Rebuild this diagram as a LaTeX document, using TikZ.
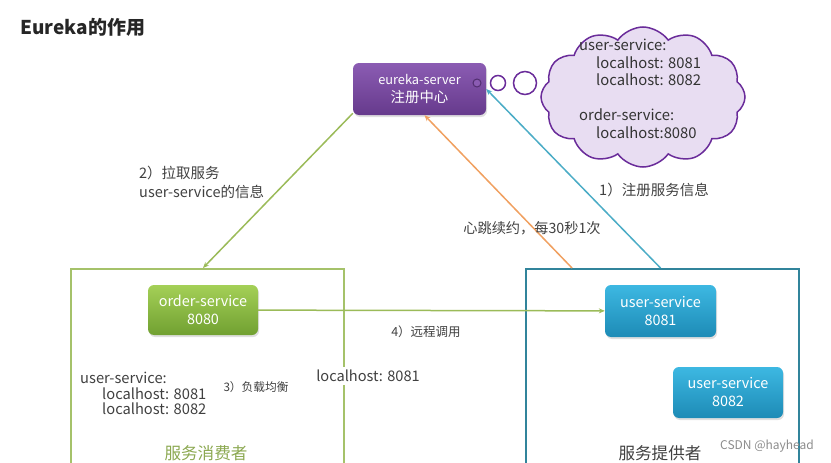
\documentclass[tikz,border=0pt]{standalone}
\usepackage{fontspec}
\setmainfont{Noto Sans CJK SC}
\usetikzlibrary{arrows.meta,positioning,shapes.symbols,shadows,calc}

\definecolor{txtgray}{HTML}{404040}
\definecolor{lineGreen}{HTML}{9BBB59}
\definecolor{lineBlue}{HTML}{4BACC6}
\definecolor{lineOrange}{HTML}{F0A060}
\definecolor{frameBlue}{HTML}{31849B}
\definecolor{purpleTop}{HTML}{8B5CB3}
\definecolor{purpleBot}{HTML}{663A8C}
\definecolor{greenTop}{HTML}{A4D057}
\definecolor{greenBot}{HTML}{71A031}
\definecolor{blueTop}{HTML}{3DB8E2}
\definecolor{blueBot}{HTML}{1D8BB6}
\definecolor{cloudFill}{HTML}{E8DDF2}
\definecolor{cloudLine}{HTML}{6A2C9A}

\begin{document}
\begin{tikzpicture}[x=1pt,y=-1pt,
    box/.style={rectangle,rounded corners=6pt,text=white,align=center,
      font=\fontsize{14.4}{18}\selectfont,
      drop shadow={opacity=0.25,shadow xshift=1pt,shadow yshift=-2pt}},
    svcgreen/.style={box,top color=greenTop,bottom color=greenBot,
      minimum width=110pt,minimum height=50pt},
    svcblue/.style={box,top color=blueTop,bottom color=blueBot,
      minimum width=111pt,minimum height=52pt},
    frame/.style={rectangle,draw,line width=1.5pt,minimum width=273pt,minimum height=210pt},
    lbl/.style={text=txtgray,font=\fontsize{14.5}{19}\selectfont,align=left,inner sep=1pt},
    small/.style={lbl,font=\fontsize{12}{15}\selectfont},
    bubble/.style={circle,draw=cloudLine,line width=1.5pt,fill=white,inner sep=0pt},
    conn/.style={line width=1.5pt,-{Stealth[length=6pt,width=5pt]}}]
    \useasboundingbox (0,0) rectangle (831,463);
    \clip (0,0) rectangle (831,463);

    % Title
    \node[anchor=west,font=\fontsize{19}{22}\selectfont\bfseries,text=black!85] (title) at (17,27) {Eureka的作用};

    % Consumer / provider frames
    \node[frame,draw=lineGreen!90!white,anchor=north west] (consumer) at (70,268) {};
    \node[frame,draw=frameBlue,anchor=north west] (provider) at (525,268) {};

    % Registry
    \node[box,top color=purpleTop,bottom color=purpleBot,minimum width=133pt,minimum height=52pt]
      (eureka) at (419.5,89) {{\fontsize{12.8}{16}\selectfont eureka-server}\\{\fontsize{14.4}{17}\selectfont 注册中心}};
    \node[circle,draw=purpleBot!80!black,line width=1pt,fill=purpleTop,minimum size=8pt,inner sep=0pt] (dot) at (477,83) {};

    % Thought bubbles and cloud
    \node[bubble,minimum size=15pt] (bubA) at (498,83) {};
    \node[bubble,minimum size=23pt] (bubB) at (525,83) {};
    \node[cloud,cloud puffs=12,cloud puff arc=110,aspect=1.45,draw=cloudLine,line width=1.5pt,
      fill=cloudFill,minimum width=204pt,minimum height=140pt] (memo) at (643,97) {};
    \node[lbl,anchor=north west,text=black!80,font=\fontsize{14.8}{17.5}\selectfont] (memoText) at (578,38)
      {user-service:\\\hspace*{17pt}localhost: 8081\\\hspace*{17pt}localhost: 8082\\[17.5pt]
       order-service:\\\hspace*{17pt}localhost:8080};

    % Services
    \node[svcgreen] (order) at (203,310) {order-service\\8080};
    \node[svcblue] (user1) at (660.5,311) {user-service\\8081};
    \node[svcblue,minimum width=110pt,minimum height=51pt] (user2) at (728,392.5) {user-service\\8082};

    % Connector ends on the frames
    \coordinate (pullEnd) at (order |- consumer.north);
    \coordinate (regStart) at (user1 |- provider.north);
    \coordinate (beatStart) at ($(provider.north west)+(47,0)$);

    % Connectors
    \draw[conn,lineGreen] (eureka.200) -- (pullEnd);
    \draw[conn,lineBlue] (regStart) -- (eureka.east);
    \draw[conn,lineOrange] (beatStart) -- ($(eureka.south)+(5,0)$);
    \draw[conn,lineGreen] (order) -- (user1);

    % Labels
    \node[lbl,anchor=west] (pullLbl) at (138,182) {2）拉取服务\\user-service的信息};
    \node[lbl] (regLbl) at (654,190) {1）注册服务信息};
    \node[lbl,font=\fontsize{14.2}{17}\selectfont] (beatLbl) at (532,228) {心跳续约，每30秒1次};
    \node[small,font=\fontsize{12.5}{15}\selectfont] (callLbl) at (426,332) {4）远程调用};
    \node[lbl,fill=white,font=\fontsize{14.6}{17}\selectfont,inner sep=3pt] (pickLbl) at (368,376) {localhost: 8081};
    \node[lbl,anchor=north west,font=\fontsize{14.7}{15.5}\selectfont] (listLbl) at (79,371)
      {user-service:\\\hspace*{22pt}localhost: 8081\\\hspace*{22pt}localhost: 8082};
    \node[small,font=\fontsize{11.7}{14}\selectfont] (lbLbl) at (256,387) {3）负载均衡};
    \node[font=\fontsize{16.6}{19}\selectfont,text=lineGreen!90!black] (consLbl) at (206,453) {服务消费者};
    \node[font=\fontsize{16.6}{19}\selectfont,text=txtgray] (provLbl) at (660,453) {服务提供者};
    \node[font=\fontsize{12}{14}\selectfont,text=black!45] (mark) at (767,446) {CSDN @hayhead};
\end{tikzpicture}
\end{document}
